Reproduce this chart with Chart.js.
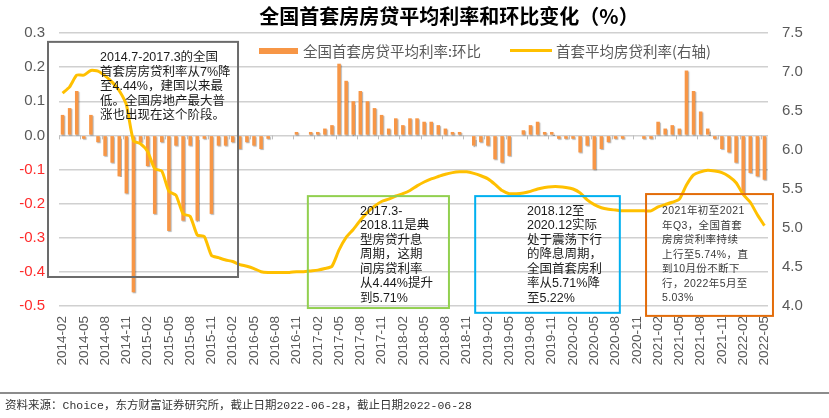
<!DOCTYPE html>
<html>
<head>
<meta charset="utf-8">
<script src="https://cdn.jsdelivr.net/npm/chart.js@4.4.1/dist/chart.umd.min.js"></script>
<style>
  html, body { margin: 0; padding: 0; background: #fff; }
  #wrap { width: 829px; height: 418px; position: relative; }
</style>
</head>
<body>
<div id="wrap"><canvas id="myChart"></canvas></div>
<script>
// monthly categories, 2014-02 .. 2022-05
const months = [
  '2014-02','2014-03','2014-04','2014-05','2014-06','2014-07','2014-08','2014-09','2014-10','2014-11','2014-12',
  '2015-01','2015-02','2015-03','2015-04','2015-05','2015-06','2015-07','2015-08','2015-09','2015-10','2015-11','2015-12',
  '2016-01','2016-02','2016-03','2016-04','2016-05','2016-06','2016-07','2016-08','2016-09','2016-10','2016-11','2016-12',
  '2017-01','2017-02','2017-03','2017-04','2017-05','2017-06','2017-07','2017-08','2017-09','2017-10','2017-11','2017-12',
  '2018-01','2018-02','2018-03','2018-04','2018-05','2018-06','2018-07','2018-08','2018-09','2018-10','2018-11','2018-12',
  '2019-01','2019-02','2019-03','2019-04','2019-05','2019-06','2019-07','2019-08','2019-09','2019-10','2019-11','2019-12',
  '2020-01','2020-02','2020-03','2020-04','2020-05','2020-06','2020-07','2020-08','2020-09','2020-10','2020-11','2020-12',
  '2021-01','2021-02','2021-03','2021-04','2021-05','2021-06','2021-07','2021-08','2021-09','2021-10','2021-11','2021-12',
  '2022-01','2022-02','2022-03','2022-04','2022-05'
];

// 环比 change (left axis)
const rateChange = [
  0.06, 0.08, 0.13, -0.01, 0.06, -0.02, -0.06, -0.08, -0.12, -0.17, -0.46,
  -0.02, -0.09, -0.23, -0.02, -0.28, -0.03, -0.25, -0.03, -0.25, -0.01, -0.23, -0.03,
  -0.03, -0.02, -0.04, -0.02, -0.03, -0.04, -0.01, 0, 0, 0, 0.01, 0,
  0.01, 0.01, 0.02, 0.03, 0.21, 0.16, 0.10, 0.13, 0.10, 0.08, 0.06, 0.02,
  0.05, 0.03, 0.05, 0.05, 0.04, 0.04, 0.03, 0.02, 0.01, 0.01, 0, -0.03,
  -0.02, -0.03, -0.07, -0.08, -0.06, 0, 0.015, 0.03, 0.04, 0.01, 0.01, -0.01,
  -0.01, -0.01, -0.05, -0.03, -0.10, -0.04, -0.02, -0.01, -0.01, 0, 0, -0.01,
  -0.01, 0.04, 0.02, 0.03, 0.02, 0.19, 0.13, 0.07, 0.02, -0.01, -0.04, -0.05,
  -0.08, -0.17, -0.11, -0.12, -0.13
];

// average first-home mortgage rate (right axis)
const rateLevel = [
  6.73, 6.81, 6.96, 6.96, 7.02, 7.01, 6.95, 6.87, 6.76, 6.58, 6.12,
  6.08, 5.98, 5.76, 5.73, 5.47, 5.42, 5.18, 5.15, 4.91, 4.89, 4.65, 4.62,
  4.59, 4.57, 4.53, 4.51, 4.48, 4.44, 4.43, 4.43, 4.43, 4.43, 4.44, 4.44,
  4.45, 4.46, 4.48, 4.51, 4.72, 4.88, 4.98, 5.10, 5.20, 5.28, 5.34, 5.37,
  5.41, 5.44, 5.48, 5.54, 5.59, 5.63, 5.66, 5.69, 5.71, 5.72, 5.72, 5.70,
  5.67, 5.63, 5.56, 5.48, 5.44, 5.44, 5.45, 5.47, 5.50, 5.52, 5.53, 5.53,
  5.52, 5.50, 5.45, 5.36, 5.30, 5.26, 5.24, 5.23, 5.22, 5.22, 5.22, 5.22,
  5.22, 5.27, 5.30, 5.33, 5.37, 5.55, 5.68, 5.72, 5.74, 5.73, 5.71, 5.66,
  5.58, 5.43, 5.33, 5.17, 5.03
];

const chartTitle = '全国首套房房贷平均利率和环比变化（%）';
const barLabel = '全国首套房贷平均利率:环比';
const lineLabel = '首套平均房贷利率(右轴)';
const sourceNote = '资料来源：Choice，东方财富证券研究所，截止日期2022-06-28，截止日期2022-06-28';

const orange = '#F79646';
const yellow = '#FFC000';
const gray = '#595959';
const red = '#FF2A2A';
const sans = "'Liberation Sans', Arial, sans-serif";
const cjk = "'Liberation Sans', 'Noto Sans CJK SC', sans-serif";

// annotation boxes: x in category index, y in left-axis units
const notes = [
  { x0: -2.05, x1: 24.75, y0: 0.274, y1: -0.415, tx: 5.28, ty: 0.227, border: '#6b6b6b',
    font: "12.5px " + cjk, ink: '#1a1a1a', spacing: 0,
    lines: ['2014.7-2017.3的全国', '首套房房贷利率从7%降', '至4.44%，建国以来最', '低。全国房地产最大普', '涨也出现在这个阶段。'] },
  { x0: 34.6, x1: 54.5, y0: -0.178, y1: -0.506, tx: 41.95, ty: -0.222, border: '#92D050',
    font: "12.5px " + cjk, ink: '#1a1a1a', spacing: 0,
    lines: ['2017.3-', '2018.11是典', '型房贷升息', '周期，这期', '间房贷利率', '从4.44%提升', '到5.71%'] },
  { x0: 58.2, x1: 78.6, y0: -0.178, y1: -0.52, tx: 65.5, ty: -0.222, border: '#00B0F0',
    font: "12.5px " + cjk, ink: '#1a1a1a', spacing: 0,
    lines: ['2018.12至', '2020.12实际', '处于震荡下行', '的降息周期，', '全国首套房利', '率从5.71%降', '至5.22%'] },
  { x0: 82.3, x1: 100.2, y0: -0.172, y1: -0.529, tx: 84.55, ty: -0.222, border: '#E36C09',
    font: "10.5px " + cjk, ink: '#3a3a3a', spacing: 0.4,
    lines: ['2021年初至2021', '年Q3，全国首套', '房房贷利率持续', '上行至5.74%，直', '到10月份不断下', '行，2022年5月至', '5.03%'] }
];

const decor = {
  id: 'decor',
  beforeDatasetDraw(chart, args) {
    if (args.meta.type === 'bar') {
      const c = chart.ctx;
      c.save();
      c.shadowColor = 'rgba(0,0,0,0.3)';
      c.shadowOffsetX = 1;
      c.shadowOffsetY = 1;
      c.shadowBlur = 1;
    }
  },
  afterDatasetDraw(chart, args) {
    if (args.meta.type === 'bar') chart.ctx.restore();
  },
  afterDatasetsDraw(chart) {
    const c = chart.ctx;
    const xs = chart.scales.x;
    const ys = chart.scales.y;

    // small tick marks on the zero line
    const zero = ys.getPixelForValue(0);
    c.save();
    c.strokeStyle = '#bdbdbd';
    c.lineWidth = 1;
    for (let i = 0; i <= months.length; i += 3) {
      const px = Math.round(xs.getPixelForValue(i - 0.5)) + 0.5;
      c.beginPath();
      c.moveTo(px, zero);
      c.lineTo(px, zero + 4);
      c.stroke();
    }
    c.restore();

    // annotation boxes
    notes.forEach(n => {
      const l = xs.getPixelForValue(n.x0);
      const r = xs.getPixelForValue(n.x1);
      const t = ys.getPixelForValue(n.y0);
      const b = ys.getPixelForValue(n.y1);
      c.save();
      c.strokeStyle = n.border;
      c.lineWidth = 2;
      c.strokeRect(l, t, r - l, b - t);
      c.font = n.font;
      c.fillStyle = n.ink;
      c.textBaseline = 'middle';
      c.textAlign = 'left';
      if ('letterSpacing' in c) c.letterSpacing = n.spacing + 'px';
      const tx = xs.getPixelForValue(n.tx);
      let ty = ys.getPixelForValue(n.ty);
      n.lines.forEach(line => {
        c.fillText(line, tx, ty);
        ty += 14.5;
      });
      c.restore();
    });

    // title
    c.save();
    c.fillStyle = '#000';
    c.font = "bold 20px 'Noto Sans CJK SC', sans-serif";
    c.textAlign = 'center';
    c.textBaseline = 'middle';
    c.fillText(chartTitle, 449, 16);
    c.restore();

    // legend
    const ds = chart.data.datasets;
    const barDs = ds.find(d => d.type === 'bar');
    const lineDs = ds.find(d => d.type === 'line');
    c.save();
    c.font = "14.5px 'Noto Sans CJK SC', sans-serif";
    c.textBaseline = 'middle';
    c.fillStyle = barDs.backgroundColor;
    c.fillRect(259, 48, 39, 6);
    c.fillStyle = gray;
    c.fillText(barDs.label, 303, 51);
    c.strokeStyle = lineDs.borderColor;
    c.lineWidth = 3;
    c.beginPath();
    c.moveTo(510, 50.5);
    c.lineTo(552, 50.5);
    c.stroke();
    c.fillText(lineDs.label, 556, 51);
    c.restore();

    // separator and source line
    c.save();
    c.strokeStyle = '#8c8c8c';
    c.lineWidth = 2;
    c.beginPath();
    c.moveTo(0, 393);
    c.lineTo(chart.width, 393);
    c.stroke();
    c.font = "11.5px 'Liberation Mono', 'Noto Sans CJK SC', monospace";
    c.fillStyle = '#333';
    c.textBaseline = 'middle';
    c.fillText(sourceNote, 5, 406);
    c.restore();
  }
};

const ctx = document.getElementById('myChart').getContext('2d');
new Chart(ctx, {
  type: 'bar',
  data: {
    labels: months,
    datasets: [
      {
        type: 'line',
        label: lineLabel,
        data: rateLevel,
        yAxisID: 'y1',
        borderColor: yellow,
        backgroundColor: yellow,
        borderWidth: 3,
        pointRadius: 0,
        tension: 0.2,
        fill: false,
        order: 1
      },
      {
        type: 'bar',
        label: barLabel,
        data: rateChange,
        yAxisID: 'y',
        backgroundColor: orange,
        barPercentage: 0.5,
        categoryPercentage: 1,
        order: 2
      }
    ]
  },
  options: {
    responsive: true,
    maintainAspectRatio: false,
    animation: false,
    layout: { padding: { top: 33, left: 0, right: 0, bottom: 0 } },
    plugins: {
      legend: { display: false },
      title: { display: false },
      tooltip: { enabled: false }
    },
    scales: {
      x: {
        grid: { display: false, drawTicks: false },
        border: { display: false },
        ticks: {
          autoSkip: false,
          minRotation: 90,
          maxRotation: 90,
          padding: 10,
          color: gray,
          font: { family: sans, size: 13.5 },
          callback: (v, i) => (i % 3 === 0 ? months[i] : '')
        },
        afterFit: s => { s.height = 112; }
      },
      y: {
        position: 'left',
        min: -0.5,
        max: 0.3,
        grid: { color: '#d0d0d0', lineWidth: 1.5, drawTicks: false },
        border: { display: false },
        ticks: {
          stepSize: 0.1,
          padding: 14,
          font: { family: sans, size: 15 },
          color: c => (c.tick.value < -1e-9 ? red : gray),
          callback: v => (Math.abs(v) < 1e-9 ? '0.0' : v.toFixed(1))
        },
        afterFit: s => { s.width = 59; }
      },
      y1: {
        position: 'right',
        min: 4,
        max: 7.5,
        grid: { display: false, drawTicks: false },
        border: { display: false },
        ticks: {
          stepSize: 0.5,
          padding: 14,
          color: gray,
          font: { family: sans, size: 15 },
          callback: v => v.toFixed(1)
        },
        afterFit: s => { s.width = 61; }
      }
    }
  },
  plugins: [decor]
});
</script>
</body>
</html>
